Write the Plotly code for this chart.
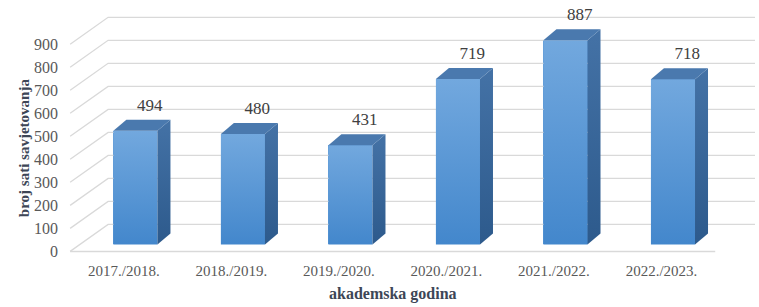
import plotly.graph_objects as go

# ---- data ----
categories = ["2017./2018.", "2018./2019.", "2019./2020.", "2020./2021.", "2021./2022.", "2022./2023."]
values = [494, 480, 431, 719, 887, 718]
y_ticks = [0, 100, 200, 300, 400, 500, 600, 700, 800, 900]
x_title = "akademska godina"
y_title = "broj sati savjetovanja"

# ---- pseudo-3D geometry (axis units) ----
BASE = 30        # bar front bottom above floor front edge
OFF = 0.107      # bar front centre offset from category tick
W = 0.41         # bar front width
DX, DY = 0.121, 48       # bar depth
WALL_DX, WALL_DY = 0.353, 117  # back wall offset
X0, X1 = -0.5, 5.5
XR = 5.9

GRID = "#d9d9d9"
FONT = "Liberation Serif"

fig = go.Figure()

# gridlines: left wall diagonal + back wall horizontal
for v in y_ticks:
    fig.add_trace(go.Scatter(
        x=[X0, X0 + WALL_DX, XR], y=[v, v + WALL_DY, v + WALL_DY],
        mode="lines", line=dict(color=GRID, width=1.3),
        hoverinfo="skip", showlegend=False, cliponaxis=False))
# floor front edge
fig.add_trace(go.Scatter(x=[X0, X1], y=[0, 0], mode="lines",
                         line=dict(color=GRID, width=1.5),
                         hoverinfo="skip", showlegend=False))

# front faces as bars
xs = [i + OFF for i in range(len(values))]
fig.add_trace(go.Bar(x=xs, y=values, base=BASE, width=W,
                     marker=dict(color="#5b98d6", line=dict(width=0)),
                     hoverinfo="skip", showlegend=False))

for i, v in enumerate(values):
    xl = xs[i] - W / 2
    xr = xs[i] + W / 2
    top = BASE + v
    # front gradient overlay
    fig.add_trace(go.Scatter(
        x=[xl, xr, xr, xl, xl], y=[BASE, BASE, top, top, BASE],
        fill="toself", mode="none",
        fillgradient=dict(type="vertical",
                          colorscale=[[0, "#4387cc"], [1, "#72a8de"]]),
        hoverinfo="skip", showlegend=False))
    # side face
    fig.add_trace(go.Scatter(
        x=[xr, xr + DX, xr + DX, xr, xr],
        y=[BASE, BASE + DY, top + DY, top, BASE],
        fill="toself", mode="none",
        fillgradient=dict(type="vertical",
                          colorscale=[[0, "#2d5a8c"], [1, "#4472a6"]]),
        hoverinfo="skip", showlegend=False))
    # top face
    fig.add_trace(go.Scatter(
        x=[xl, xr, xr + DX, xl + DX, xl],
        y=[top, top, top + DY, top + DY, top],
        fill="toself", mode="none", fillcolor="#4a79ae",
        hoverinfo="skip", showlegend=False))

# data labels
fig.add_trace(go.Scatter(
    x=[i + 0.24 for i in range(len(values))],
    y=[v + BASE + DY + 57 for v in values],
    text=[str(v) for v in values], mode="text",
    textposition="middle center",
    textfont=dict(family=FONT, size=17, color="#404040"),
    hoverinfo="skip", showlegend=False, cliponaxis=False))

fig.update_layout(
    width=759, height=307,
    margin=dict(l=68, r=4, t=12, b=51),
    plot_bgcolor="white", paper_bgcolor="white",
    bargap=0,
    xaxis=dict(range=[-0.52, 5.87], tickvals=list(range(len(categories))),
               ticktext=categories, showgrid=False, zeroline=False,
               showline=False, ticks="", ticklabelstandoff=4,
               tickfont=dict(family=FONT, size=15, color="#595959"),
               fixedrange=True),
    yaxis=dict(range=[-20, 1040], tickvals=y_ticks,
               showgrid=False, zeroline=False, showline=False, ticks="",
               ticklabelstandoff=9,
               tickfont=dict(family=FONT, size=16, color="#595959"),
               fixedrange=True),
    annotations=[
        dict(text=x_title, x=2.5, xref="x", y=-0.155, yref="paper",
             showarrow=False, xanchor="center", yanchor="middle",
             font=dict(family=FONT, size=16, color="#3d4656", weight="bold")),
        dict(text=y_title, x=-0.065, xref="paper", y=450, yref="y",
             showarrow=False, textangle=-90, xanchor="center", yanchor="middle",
             font=dict(family=FONT, size=15, color="#3d4656", weight="bold")),
    ],
)

fig.write_html("out.html")
